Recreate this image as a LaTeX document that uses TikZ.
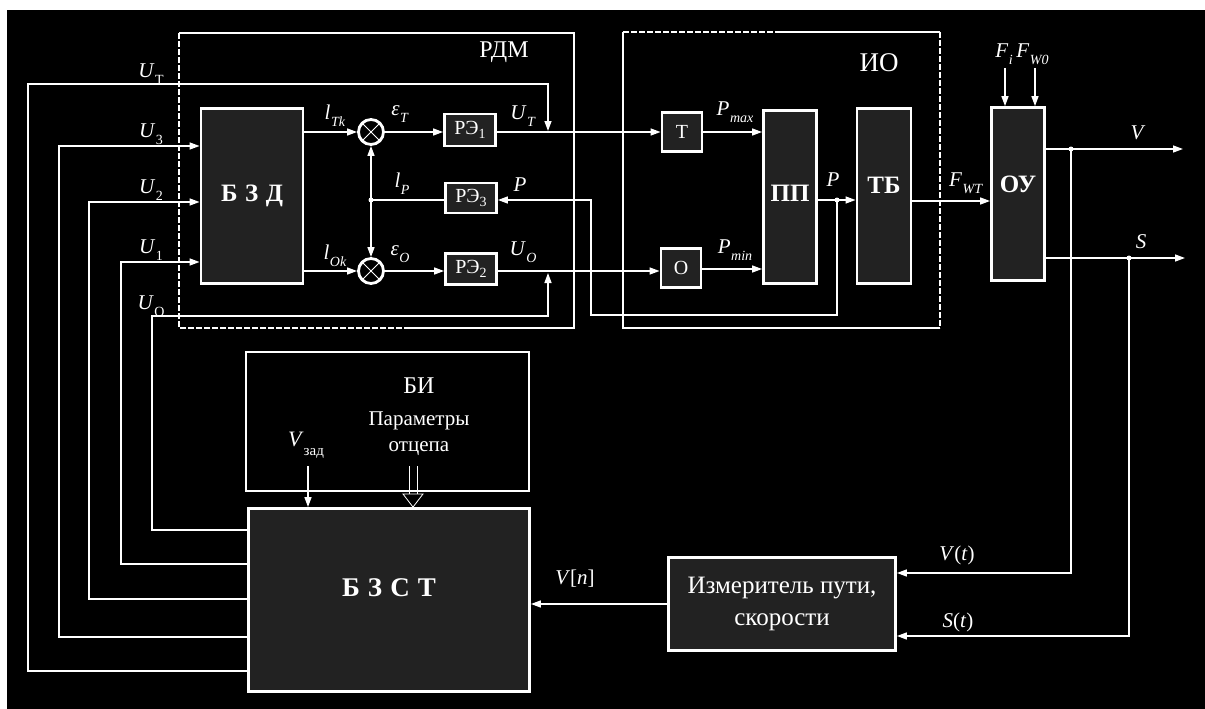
\documentclass[tikz,border=0pt]{standalone}
\usepackage{fontspec}
\setmainfont{Liberation Serif}
\usetikzlibrary{arrows.meta}
\definecolor{blkfill}{RGB}{34,34,34}
% italic symbol with a lowered subscript
\newcommand{\vsym}[2]{\textit{#1}\kern0.5pt\raisebox{-7pt}{\fontsize{14}{14}\selectfont #2}}
\newcommand{\rsub}[1]{\raisebox{-4pt}{\fontsize{14}{14}\selectfont #1}}

\begin{document}
\begin{tikzpicture}[x=1pt, y=-1pt,
  wire/.style={white, line width=1.4pt},
  arr/.style={wire, -{Triangle[length=10pt,width=7pt]}},
  rframe/.style={white, line width=1.4pt},
  dframe/.style={rframe, dash pattern=on 6pt off 2pt},
  blk/.style={draw=white, line width=2.8pt, fill=blkfill, text=white, inner sep=0pt},
  sumnode/.style={circle, draw=white, line width=2.8pt, fill=black, minimum size=25pt, inner sep=0pt},
  lbl/.style={text=white, inner sep=1pt, font=\fontsize{21}{24}\selectfont},
  title/.style={text=white, inner sep=1pt, font=\fontsize{24}{28}\selectfont},
  bigbold/.style={font={\fontsize{25}{28}\selectfont\bfseries}},
  jdot/.style={circle, fill=white, inner sep=0pt, minimum size=5pt}]

  % background
  \fill[white] (0,0) rectangle (1205,709);
  \fill[black] (7,10) rectangle (1205,709);
  \useasboundingbox (0,0) rectangle (1205,709);

  % frames
  \draw[rframe] (179,33) -- (574,33) -- (574,328) -- (410,328);
  \draw[dframe] (410,328) -- (179,328) -- (179,33);
  \draw[dframe] (623,32) -- (780,32);
  \draw[rframe] (780,32) -- (940,32);
  \draw[dframe] (940,32) -- (940,328);
  \draw[rframe] (940,328) -- (623,328) -- (623,32);
  \draw[rframe] (246,352) rectangle (529,491);
  \node[title] (rdm) at (504,52) {РДМ};
  \node[title, font=\fontsize{27}{30}\selectfont] (io) at (879,63) {ИО};
  \node[title] (bi) at (419,386) {БИ};
  \node[text=white, align=center, font=\fontsize{21}{26}\selectfont] (par) at (419,434) {Параметры\\отцепа};

  % blocks
  \node[blk, minimum width=102pt, minimum height=175pt, bigbold] (bzd) at (252,196) {Б\hspace{0.3em}З\hspace{0.3em}Д};
  \node[sumnode] (sumT) at (371,132) {};
  \node[sumnode] (sumO) at (371,271) {};
  \foreach \s in {sumT,sumO}
    \draw[white, line width=0.8pt] (\s.north east) -- (\s.south west) (\s.north west) -- (\s.south east);
  \node[blk, minimum width=51pt, minimum height=32pt, font=\fontsize{20}{22}\selectfont] (re1) at (470,130) {РЭ\rsub{1}};
  \node[blk, minimum width=51pt, minimum height=30pt, font=\fontsize{20}{22}\selectfont] (re3) at (471,198) {РЭ\rsub{3}};
  \node[blk, minimum width=51pt, minimum height=31pt, font=\fontsize{20}{22}\selectfont] (re2) at (471,269) {РЭ\rsub{2}};
  \node[blk, minimum width=40pt, minimum height=39pt, font=\fontsize{20}{22}\selectfont] (bT) at (682,132) {Т};
  \node[blk, minimum width=40pt, minimum height=39pt, font=\fontsize{20}{22}\selectfont] (bO) at (681,268) {О};
  \node[blk, minimum width=53pt, minimum height=173pt, bigbold, text depth=8pt] (pp) at (790,197) {ПП};
  \node[blk, minimum width=54pt, minimum height=175pt, bigbold, text depth=22pt] (tb) at (884,196) {ТБ};
  \node[blk, minimum width=53pt, minimum height=173pt, bigbold, text depth=20pt] (oy) at (1018,194) {ОУ};
  \node[blk, minimum width=281pt, minimum height=183pt, font={\fontsize{27}{30}\selectfont\bfseries}, text depth=24pt] (bzst) at (389,600) {Б\hspace{0.3em}З\hspace{0.3em}С\hspace{0.3em}Т};
  \node[blk, minimum width=227pt, minimum height=93pt, align=center, font=\fontsize{25}{32}\selectfont] (izm) at (782,604) {Измеритель пути,\\скорости};

  % junctions
  \coordinate (jp) at (371,200);
  \coordinate (jpp) at (837,200);
  \coordinate (jv) at (1071,149);
  \coordinate (js) at (1129,258);
  \coordinate (utin) at (548,131);
  \coordinate (uoin) at (548,273);
  \coordinate (vout) at (1183,149);
  \coordinate (sout) at (1185,258);
  \coordinate (fi) at (1005,68);
  \coordinate (fw) at (1035,68);
  \coordinate (vzin) at (308,466);
  \coordinate (parin) at (413,466);

  % inputs from БЗСТ
  \draw[arr] (bzst.west |- 0,671) -| (28,84) -| (utin);
  \draw[arr] (bzst.west |- 0,637) -| (59,146) -- (bzd.west |- 0,146);
  \draw[arr] (bzst.west |- 0,599) -| (89,202) -- (bzd.west |- 0,202);
  \draw[arr] (bzst.west |- 0,564) -| (121,262) -- (bzd.west |- 0,262);
  \draw[arr] (bzst.west |- 0,530) -| (152,316) -| (uoin);

  % РДМ
  \draw[arr] (bzd.east |- sumT) -- (sumT);
  \draw[arr] (bzd.east |- sumO) -- (sumO);
  \draw[arr] (sumT) -- (re1.west |- sumT);
  \draw[arr] (sumO) -- (re2.west |- sumO);
  \draw[wire] (re3.west |- jp) -- (jp);
  \draw[arr] (jp) -- (sumT);
  \draw[arr] (jp) -- (sumO);
  \draw[arr] (re1.east |- sumT) -- (bT);
  \draw[arr] (re2.east |- sumO) -- (bO.west |- sumO);

  % ИО
  \draw[arr] (bT) -- (pp.west |- bT);
  \draw[arr] (bO.east |- 0,269) -- (pp.west |- 0,269);
  \draw[arr] (pp.east |- jp) -- (tb.west |- jp);
  \draw[arr] (jpp) -- (837,315) -| (591,200) -- (re3.east |- jp);
  \draw[arr] (tb.east |- 0,201) -- (oy.west |- 0,201);

  % ОУ
  \draw[arr] (fi) -- (fi |- oy.north);
  \draw[arr] (fw) -- (fw |- oy.north);
  \draw[arr] (oy.east |- jv) -- (vout);
  \draw[arr] (oy.east |- js) -- (sout);
  \draw[arr] (jv) |- (izm.east |- 0,573);
  \draw[arr] (js) |- (izm.east |- 0,636);
  \draw[arr] (izm) -- (bzst.east |- izm);

  % БИ
  \draw[arr] (vzin) -- (vzin |- bzst.north);
  \draw[white, line width=0.8pt] (parin) ++(-4,0) -- ++(0,28) ++(8,-28) -- ++(0,28);
  \draw[white, line width=0.8pt, fill=black] (parin |- 0,494) ++(-10,0) -- ++(20,0) -- (parin |- bzst.north) -- cycle;

  \node[jdot] (dp) at (jp) {};
  \node[jdot] (dpp) at (jpp) {};
  \node[jdot] (dv) at (jv) {};
  \node[jdot] (ds) at (js) {};

  % labels
  \node[lbl] (luT) at (151,74) {\vsym{U}{Т}};
  \node[lbl] (lu3) at (151,134) {\vsym{U}{3}};
  \node[lbl] (lu2) at (151,190) {\vsym{U}{2}};
  \node[lbl] (lu1) at (151,250) {\vsym{U}{1}};
  \node[lbl] (luO) at (151,306) {\vsym{U}{О}};
  \node[lbl] (llT) at (335,116) {\vsym{l}{\textit{Tk}}};
  \node[lbl] (llO) at (335,256) {\vsym{l}{\textit{Ok}}};
  \node[lbl] (leT) at (400,114) {\vsym{ε}{\textit{T}}};
  \node[lbl] (leO) at (400,254) {\vsym{ε}{\textit{O}}};
  \node[lbl] (llP) at (402,184) {\vsym{l}{\textit{P}}};
  \node[lbl] (lUT) at (523,116) {\vsym{U}{\textit{T}}};
  \node[lbl] (lUO) at (523,252) {\vsym{U}{\textit{O}}};
  \node[lbl] (lP1) at (520,185) {\textit{P}};
  \node[lbl] (lPx) at (735,112) {\vsym{P}{\textit{max}}};
  \node[lbl] (lPn) at (735,250) {\vsym{P}{\textit{min}}};
  \node[lbl] (lP2) at (833,180) {\textit{P}};
  \node[lbl] (lFw) at (966,183) {\vsym{F}{\textit{WT}}};
  \node[lbl] (lFi) at (1022,54) {\vsym{F}{\textit{i}}\,\vsym{F}{\textit{W0}}};
  \node[lbl] (lV) at (1138,133) {\textit{V}};
  \node[lbl] (lS) at (1141,242) {\textit{S}};
  \node[lbl] (lVt) at (957,555) {\textit{V}(\textit{t})};
  \node[lbl] (lSt) at (958,622) {\textit{S}(\textit{t})};
  \node[lbl] (lVn) at (575,579) {\textit{V}[\textit{n}]};
  \node[lbl, font=\fontsize{22}{24}\selectfont] (lVz) at (306,445) {\textit{V}\raisebox{-9pt}{\fontsize{15}{15}\selectfont зад}};
\end{tikzpicture}
\end{document}
